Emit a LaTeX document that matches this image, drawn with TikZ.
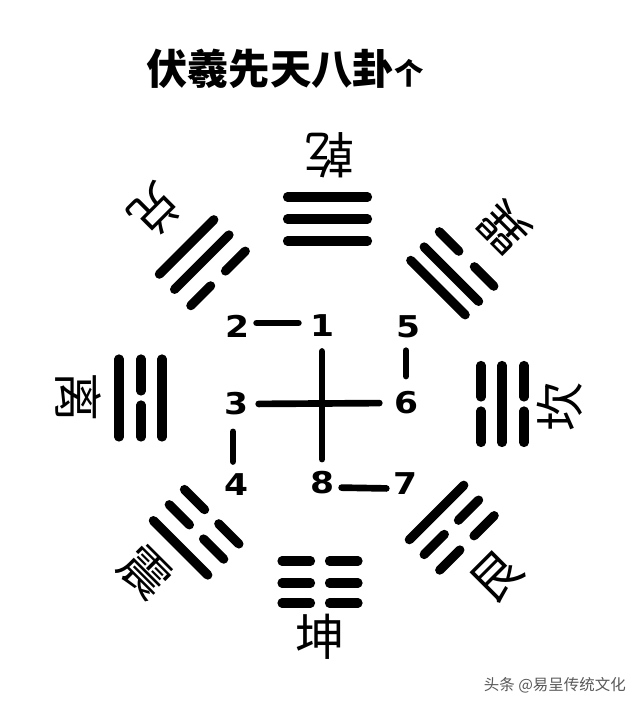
\documentclass[tikz,border=0pt]{standalone}
\usepackage{fontspec}
\newfontfamily\cjk{Noto Sans CJK SC}
\newfontfamily\numfont[FakeStretch=1.15]{DejaVu Sans}
\newcommand\yaoS[1]{\draw[yao] ({\tgo-\tgl/2+4.5},#1) -- ({\tgo+\tgl/2-4.5},#1);}
\newcommand\yaoB[1]{\draw[yao] ({\tgo-\tgl/2+4.5},#1) -- ({\tgo-\tgg/2-4.5},#1);
  \draw[yao] ({\tgo+\tgg/2+4.5},#1) -- ({\tgo+\tgl/2-4.5},#1);}
\begin{document}
\begin{tikzpicture}[x=0.75pt,y=0.75pt,
  yao/.style={line width=6.9pt, line cap=round},
  link/.style={line width=5pt, line cap=round},
  num/.style={font=\numfont\bfseries\fontsize{22.5}{22.5}\selectfont, inner sep=0pt},
  gua/.style={font=\cjk\fontsize{37}{37}\selectfont, inner sep=0pt},
]
\useasboundingbox[fill=white] (0,0) rectangle (640,706);

% title
\node[anchor=west, inner sep=0pt, font=\cjk\bfseries\fontsize{31}{31}\selectfont] (title) at (146,637.5)
  {伏羲先天八卦{\fontsize{22}{22}\selectfont 个}};

% trigrams (inner, middle, outer)
% Qian, top
\begin{scope}[shift={(322,301)}, rotate=0]
  \def\tgo{5.5}\def\tgl{89}\def\tgg{10}
  \yaoS{164}\yaoS{186}\yaoS{208}
\end{scope}
% Dui, top-left
\begin{scope}[shift={(322,301)}, rotate=45]
  \def\tgo{16}\def\tgl{86}\def\tgg{12}
  \yaoB{163}\yaoS{186}\yaoS{207.5}
\end{scope}
% Li, left
\begin{scope}[shift={(322,301)}, rotate=90]
  \def\tgo{7}\def\tgl{87}\def\tgg{5}
  \yaoS{160}\yaoB{181}\yaoS{203}
\end{scope}
% Zhen, bottom-left
\begin{scope}[shift={(322,301)}, rotate=135]
  \def\tgo{-1}\def\tgl{86}\def\tgg{11}
  \yaoB{157}\yaoB{178.5}\yaoS{201}
\end{scope}
% Xun, top-right
\begin{scope}[shift={(322,301)}, rotate=-45]
  \def\tgo{-1}\def\tgl{86}\def\tgg{13}
  \yaoS{165}\yaoS{184}\yaoB{205.5}
\end{scope}
% Kan, right
\begin{scope}[shift={(322,301)}, rotate=-90]
  \def\tgo{-1}\def\tgl{86}\def\tgg{5}
  \yaoB{159}\yaoS{180}\yaoB{202}
\end{scope}
% Gen, bottom-right
\begin{scope}[shift={(322,301)}, rotate=-135]
  \def\tgo{-5}\def\tgl{86}\def\tgg{11}
  \yaoS{157}\yaoB{178}\yaoB{200}
\end{scope}
% Kun, bottom
\begin{scope}[shift={(322,301)}, rotate=180]
  \def\tgo{2}\def\tgl{85}\def\tgg{10}
  \yaoB{156}\yaoB{178}\yaoB{198}
\end{scope}

% trigram names
\node[gua, rotate=180] (qian) at (330,551) {乾};
\node[gua, rotate=-135] (dui) at (155,496) {兑};
\node[gua, rotate=-90] (li) at (78,309) {离};
\node[gua, rotate=-45] (zhen) at (145,134) {震};
\node[gua, rotate=135] (xun) at (504,478) {巽};
\node[gua, rotate=90] (kan) at (560,299) {坎};
\node[gua, rotate=45] (gen) at (497,129) {艮};
\node[gua] (kun) at (320,69) {坤};

% numbers
\node[num] (n2) at (237,380) {2};
\node[num] (n1) at (322,380) {1};
\node[num] (n5) at (408,379) {5};
\node[num] (n3) at (236,302) {3};
\node[num] (n6) at (406,303) {6};
\node[num] (n4) at (236,221) {4};
\node[num] (n8) at (322,223) {8};
\node[num] (n7) at (405,222) {7};

\draw[link, shorten <=5.5pt, shorten >=8.5pt] ([yshift=2.25pt]n2.east) -- ([yshift=2.25pt]n1.west);
\draw[link, shorten <=10.7pt, shorten >=9.2pt] (n1.south) -- (n8.north);
\draw[link, shorten <=7.8pt, shorten >=10.8pt] (n3.east) -- (n6.west);
\draw[link, shorten <=9.2pt, shorten >=11.5pt] ([xshift=-1.5pt]n5.south) -- (n6.north);
\draw[link, shorten <=12.2pt, shorten >=9.2pt] ([xshift=-2.25pt]n3.south) -- ([xshift=-2.25pt]n4.north);
\draw[link, shorten <=5.5pt, shorten >=4.8pt] ([yshift=-3.4pt]n8.east) -- ([yshift=-3.4pt]n7.west);

% watermark
\node[anchor=east, inner sep=0pt, text=black!65, font=\cjk\fontsize{11.6}{12}\selectfont] (wm) at (626,21) {头条 @易呈传统文化};
\end{tikzpicture}
\end{document}
